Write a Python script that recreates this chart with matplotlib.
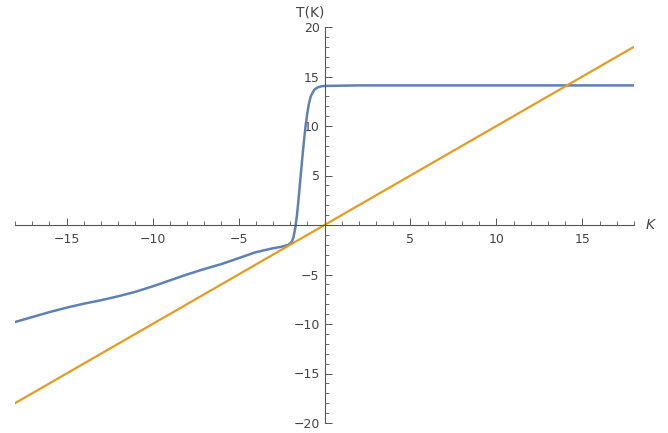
import numpy as np
import matplotlib.pyplot as plt
from matplotlib.ticker import MultipleLocator, FixedLocator

# blue curve T(K)
k_vals = [-18, -17, -16, -15, -14, -13, -12, -11, -10, -9, -8, -7, -6, -5, -4, -3,
          -2.5, -2.1, -1.9, -1.8, -1.7, -1.6, -1.5, -1.4, -1.3, -1.2, -1.1, -1.0,
          -0.9, -0.8, -0.6, -0.4, -0.2, 0, 2, 6, 10, 14, 18]
t_vals = [-9.8, -9.3, -8.8, -8.35, -7.95, -7.6, -7.2, -6.75, -6.2, -5.6, -5.0, -4.45,
          -3.95, -3.35, -2.75, -2.35, -2.2, -2.0, -1.7, -1.2, -0.3, 1.0, 2.8, 4.7,
          6.6, 8.4, 10.0, 11.3, 12.3, 13.0, 13.65, 13.9, 14.0, 14.05, 14.1, 14.1,
          14.1, 14.1, 14.1]
# orange line T = K
line_k = [-18, 18]
line_t = [-18, 18]

xticks = [-15, -10, -5, 5, 10, 15]
yticks = [-20, -15, -10, -5, 5, 10, 15, 20]

fig = plt.figure(figsize=(6.68, 4.33), dpi=100)
ax = fig.add_axes([15 / 668, 10 / 433, 619 / 668, 396 / 433])

ax.plot(k_vals, t_vals, color='#5E81B5', lw=1.8, solid_capstyle='round')
ax.plot(line_k, line_t, color='#E19C24', lw=1.6, solid_capstyle='round')

ax.set_xlim(-18, 18)
ax.set_ylim(-20, 20)

for s in ['top', 'right']:
    ax.spines[s].set_visible(False)
ax.spines['left'].set_position(('data', 0))
ax.spines['bottom'].set_position(('data', 0))
ax.spines['left'].set_bounds(-20, 20)
for s in ['left', 'bottom']:
    ax.spines[s].set_color('#555555')
    ax.spines[s].set_linewidth(0.8)

ax.xaxis.set_major_locator(FixedLocator(xticks))
ax.yaxis.set_major_locator(FixedLocator(yticks))
ax.xaxis.set_minor_locator(MultipleLocator(1))
ax.yaxis.set_minor_locator(MultipleLocator(1))
ax.tick_params(axis='x', which='both', direction='in', colors='#555555',
               labelcolor='#444444', labelsize=9, pad=6)
ax.tick_params(axis='y', which='both', direction='in', colors='#555555',
               labelcolor='#444444', labelsize=9)
ax.tick_params(which='major', length=5, width=0.7)
ax.tick_params(which='minor', length=3, width=0.6)
ax.patch.set_alpha(0)

ax.text(0, 20.8, 'T(K)', ha='right', va='bottom', fontsize=10, color='#444444')
ax.text(18.7, 0, 'K', ha='left', va='center', fontsize=10, color='#444444',
        style='italic')

fig.savefig('out.png', dpi=100)
